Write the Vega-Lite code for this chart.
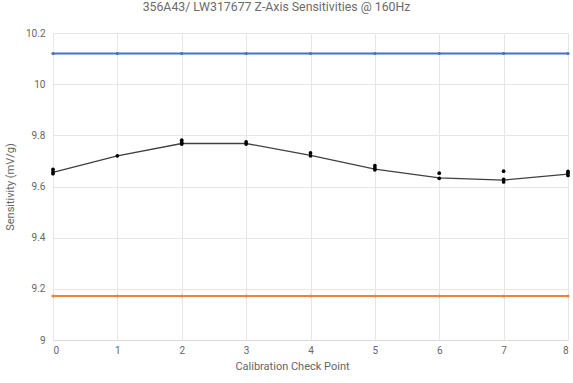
{
  "$schema": "https://vega.github.io/schema/vega-lite/v6.json",
  "width": 515,
  "height": 307,
  "autosize": {"type": "none"},
  "padding": {"left": 53, "top": 33, "right": 5, "bottom": 43},
  "background": "white",
  "title": {
    "text": "356A43/ LW317677 Z-Axis Sensitivities @ 160Hz",
    "font": "Roboto",
    "fontSize": 12.3,
    "fontWeight": "normal",
    "color": "#6b6b6b",
    "anchor": "middle",
    "dx": -34,
    "offset": 15
  },
  "config": {
    "view": {"stroke": null},
    "axis": {
      "labelFont": "Roboto",
      "titleFont": "Roboto",
      "labelFontSize": 10,
      "titleFontSize": 11,
      "labelColor": "#666666",
      "titleColor": "#666666",
      "titleFontWeight": "normal",
      "gridColor": "#e6e6e6",
      "domainColor": "#d9d9d9",
      "ticks": false,
      "labelOverlap": false
    }
  },
  "datasets": {
    "limits": [
      {"point": 0, "value": 10.12, "series": "Upper"},
      {"point": 1, "value": 10.12, "series": "Upper"},
      {"point": 2, "value": 10.12, "series": "Upper"},
      {"point": 3, "value": 10.12, "series": "Upper"},
      {"point": 4, "value": 10.12, "series": "Upper"},
      {"point": 5, "value": 10.12, "series": "Upper"},
      {"point": 6, "value": 10.12, "series": "Upper"},
      {"point": 7, "value": 10.12, "series": "Upper"},
      {"point": 8, "value": 10.12, "series": "Upper"},
      {"point": 0, "value": 9.172, "series": "Lower"},
      {"point": 1, "value": 9.172, "series": "Lower"},
      {"point": 2, "value": 9.172, "series": "Lower"},
      {"point": 3, "value": 9.172, "series": "Lower"},
      {"point": 4, "value": 9.172, "series": "Lower"},
      {"point": 5, "value": 9.172, "series": "Lower"},
      {"point": 6, "value": 9.172, "series": "Lower"},
      {"point": 7, "value": 9.172, "series": "Lower"},
      {"point": 8, "value": 9.172, "series": "Lower"}
    ],
    "mean": [
      {"point": 0, "value": 9.655},
      {"point": 1, "value": 9.72},
      {"point": 2, "value": 9.768},
      {"point": 3, "value": 9.768},
      {"point": 4, "value": 9.722},
      {"point": 5, "value": 9.668},
      {"point": 6, "value": 9.634},
      {"point": 7, "value": 9.625},
      {"point": 8, "value": 9.648}
    ],
    "readings": [
      {"point": 0, "value": 9.65},
      {"point": 0, "value": 9.658},
      {"point": 0, "value": 9.667},
      {"point": 1, "value": 9.72},
      {"point": 2, "value": 9.766},
      {"point": 2, "value": 9.772},
      {"point": 2, "value": 9.781},
      {"point": 3, "value": 9.766},
      {"point": 3, "value": 9.774},
      {"point": 4, "value": 9.72},
      {"point": 4, "value": 9.731},
      {"point": 5, "value": 9.665},
      {"point": 5, "value": 9.673},
      {"point": 5, "value": 9.682},
      {"point": 6, "value": 9.632},
      {"point": 6, "value": 9.652},
      {"point": 7, "value": 9.618},
      {"point": 7, "value": 9.628},
      {"point": 7, "value": 9.66},
      {"point": 8, "value": 9.643},
      {"point": 8, "value": 9.652},
      {"point": 8, "value": 9.659}
    ]
  },
  "encoding": {
    "x": {
      "field": "point",
      "type": "quantitative",
      "scale": {"domain": [0, 8], "nice": false},
      "axis": {"title": "Calibration Check Point", "values": [0, 1, 2, 3, 4, 5, 6, 7, 8], "labelPadding": 5, "titlePadding": 5, "titleX": 239}
    },
    "y": {
      "field": "value",
      "type": "quantitative",
      "scale": {"domain": [9, 10.2], "nice": false, "zero": false},
      "axis": {"title": "Sensitivity (mV/g)", "values": [9, 9.2, 9.4, 9.6, 9.8, 10, 10.2], "labelExpr": "'' + datum.value", "labelPadding": 8, "titlePadding": 10, "domain": false}
    }
  },
  "layer": [
    {
      "data": {"name": "limits"},
      "mark": {"type": "line", "strokeWidth": 2, "point": {"size": 10, "filled": true}},
      "encoding": {
        "detail": {"field": "series"},
        "color": {
          "field": "series",
          "type": "nominal",
          "scale": {"domain": ["Upper", "Lower"], "range": ["#4472C4", "#F08434"]},
          "legend": null
        }
      }
    },
    {
      "data": {"name": "mean"},
      "mark": {"type": "line", "color": "#404040", "strokeWidth": 1.3},
      "encoding": {}
    },
    {
      "data": {"name": "readings"},
      "mark": {"type": "point", "shape": "circle", "filled": true, "color": "#000000", "size": 14, "opacity": 1},
      "encoding": {}
    }
  ]
}
